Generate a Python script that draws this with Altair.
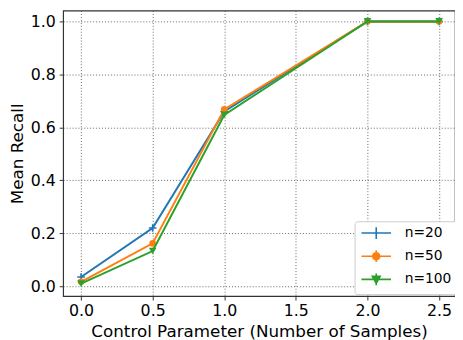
import altair as alt
import pandas as pd

series = ["n=20", "n=50", "n=100"]
colors = ["#1f77b4", "#ff7f0e", "#2ca02c"]
x_vals = [0.0, 0.5, 1.0, 2.0, 2.5]
recall_n20 = [0.035, 0.22, 0.66, 1.0, 1.0]
recall_n50 = [0.017, 0.162, 0.668, 1.0, 1.0]
recall_n100 = [0.01, 0.133, 0.647, 1.0, 1.0]
x_ticks = [0.0, 0.5, 1.0, 1.5, 2.0, 2.5]
y_ticks = [0.0, 0.2, 0.4, 0.6, 0.8, 1.0]

values = [recall_n20, recall_n50, recall_n100]
rows = []
for s, vals in zip(series, values):
    for xv, yv in zip(x_vals, vals):
        rows.append({"series": s, "x": xv, "y": yv})
df = pd.DataFrame(rows)

FONT = "DejaVu Sans"
xscale = alt.Scale(domain=[-0.125, 2.611], nice=False, zero=False)
yscale = alt.Scale(domain=[-0.037, 1.041], nice=False, zero=False)

xenc = alt.X("x:Q", scale=xscale, axis=alt.Axis(
    values=x_ticks, format=".1f", title="Control Parameter (Number of Samples)",
    titlePadding=5, labelPadding=3))
yenc = alt.Y("y:Q", scale=yscale, axis=alt.Axis(
    values=y_ticks, format=".1f", title="Mean Recall", titlePadding=4, labelPadding=4))

marker_shapes = ["M-1,0H1M0,-1V1", "circle", "triangle-down"]
marker_sizes = [60, 45, 60]
marker_filled = [False, True, True]

layers = []
for s, c, shp, sz, fl in zip(series, colors, marker_shapes, marker_sizes, marker_filled):
    sub = alt.Chart(df).transform_filter(alt.datum.series == s)
    layers.append(sub.mark_line(color=c, strokeWidth=2).encode(x=xenc, y=yenc))
    layers.append(sub.mark_point(color=c, filled=fl, shape=shp, size=sz, opacity=1,
                                 strokeWidth=1.6).encode(x=xenc, y=yenc))

legend_paths = [
    "M-1,0H5M2,-1.2V1.2M1.2,0H2.8",
    "M-1,0H5M2,-1.2V1.2M2.7,0A0.7,0.7 0 1,1 1.3,0A0.7,0.7 0 1,1 2.7,0Z",
    "M-1,0H5M2,-1.2V1.2M1.2,-0.6L2.8,-0.6L2,0.8Z",
]
leg = alt.Legend(title=None, orient="none", legendX=296, legendY=214,
                 fillColor="white", strokeColor="#cccccc", cornerRadius=3, padding=5,
                 labelFont=FONT, labelFontSize=14, labelColor="black",
                 symbolSize=100, symbolStrokeWidth=1.6, labelOffset=32, rowPadding=3.5)
legend_layer = alt.Chart(df).transform_filter("false").mark_point(
    filled=True, opacity=1).encode(
    x=xenc, y=yenc,
    fill=alt.Fill("series:N", scale=alt.Scale(domain=series, range=colors), legend=leg),
    stroke=alt.Stroke("series:N", scale=alt.Scale(domain=series, range=colors), legend=leg),
    shape=alt.Shape("series:N", scale=alt.Scale(domain=series, range=legend_paths), legend=leg),
)
layers.append(legend_layer)

chart = alt.layer(*layers).properties(
    width=398, height=290,
    autosize=alt.AutoSizeParams(type="none"),
    padding={"left": 56, "top": 0, "right": 0, "bottom": 42},
).configure_view(stroke="#333333", strokeWidth=1.2).configure_axis(
    grid=True, gridColor="#555555", gridDash=[1, 2], gridWidth=0.9,
    domain=False, tickColor="#333333", tickSize=4, tickWidth=1,
    labelFont=FONT, labelFontSize=16, labelColor="black",
    titleFont=FONT, titleFontSize=17, titleFontWeight="normal", titleColor="black",
)

chart.save("out.html", embed_options={"renderer": "svg", "actions": False})
